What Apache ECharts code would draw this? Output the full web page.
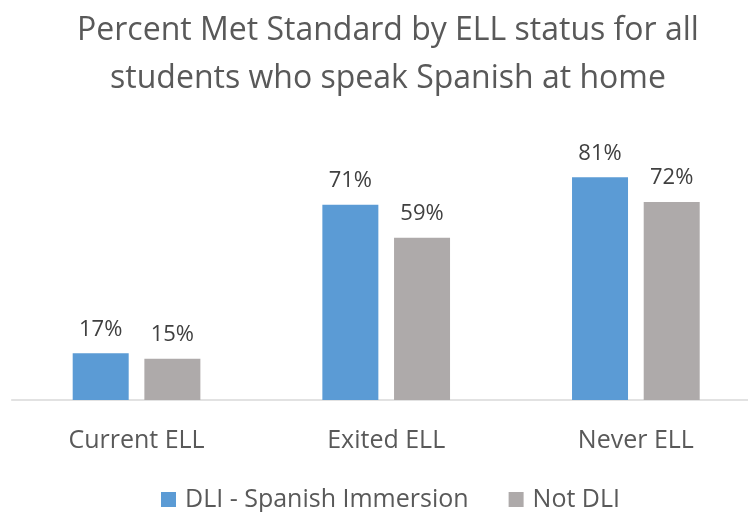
<!DOCTYPE html>
<html>
<head>
<meta charset="utf-8">
<script src="https://cdn.jsdelivr.net/npm/echarts@6/dist/echarts.min.js"></script>
<style>
  html, body { margin: 0; padding: 0; background: #fff; overflow: hidden; width: 748px; height: 512px; }
  /* the plot runs slightly past the right edge, so the canvas is a bit wider than the window */
  #chart { width: 764px; height: 512px; }
</style>
</head>
<body>
<div id="chart"></div>
<script>
// ELL status groups and percent met standard for each program group
const categories = ['Current ELL', 'Exited ELL', 'Never ELL'];
const seriesNames = ['DLI - Spanish Immersion', 'Not DLI'];
const dliValues = [17, 71, 81];
const notDliValues = [15, 59, 72];
const seriesColors = ['#5B9BD5', '#AEAAAA'];

const font = '"Open Sans", "Noto Sans", sans-serif';

const chart = echarts.init(document.getElementById('chart'), null, { renderer: 'canvas' });

const labelStyle = {
  show: true,
  position: 'top',
  distance: 13,
  color: '#404040',
  fontFamily: font,
  fontSize: 22,
  formatter: p => p.value + '%'
};

chart.setOption({
  animation: false,
  backgroundColor: '#ffffff',
  title: {
    text: 'Percent Met Standard by ELL status for all\nstudents who speak Spanish at home',
    left: 383,
    textAlign: 'center',
    top: 2,
    textStyle: {
      color: '#595959',
      fontFamily: font,
      fontSize: 32,
      fontWeight: 'normal',
      lineHeight: 48
    }
  },
  legend: {
    data: seriesNames,
    left: 161,
    top: 487,
    padding: 0,
    itemWidth: 15,
    itemHeight: 15,
    itemGap: 40,
    icon: 'rect',
    textStyle: {
      color: '#595959',
      fontFamily: font,
      fontSize: 25,
      padding: [0, 0, 0, 4]
    }
  },
  grid: {
    left: 11.7,
    top: 125,
    width: 749,
    height: 275,
    containLabel: false
  },
  xAxis: {
    type: 'category',
    data: categories,
    axisLine: { show: true, lineStyle: { color: '#D9D9D9', width: 1.5 } },
    axisTick: { show: false },
    axisLabel: {
      color: '#595959',
      fontFamily: font,
      fontSize: 25,
      margin: 28
    }
  },
  yAxis: {
    type: 'value',
    min: 0,
    max: 100,
    show: false,
    splitLine: { show: false }
  },
  series: [
    {
      name: seriesNames[0],
      type: 'bar',
      data: dliValues,
      barWidth: 56,
      barGap: '28%',
      itemStyle: { color: seriesColors[0] },
      label: labelStyle
    },
    {
      name: seriesNames[1],
      type: 'bar',
      data: notDliValues,
      barWidth: 56,
      barGap: '28%',
      itemStyle: { color: seriesColors[1] },
      label: labelStyle
    }
  ]
});
</script>
</body>
</html>
